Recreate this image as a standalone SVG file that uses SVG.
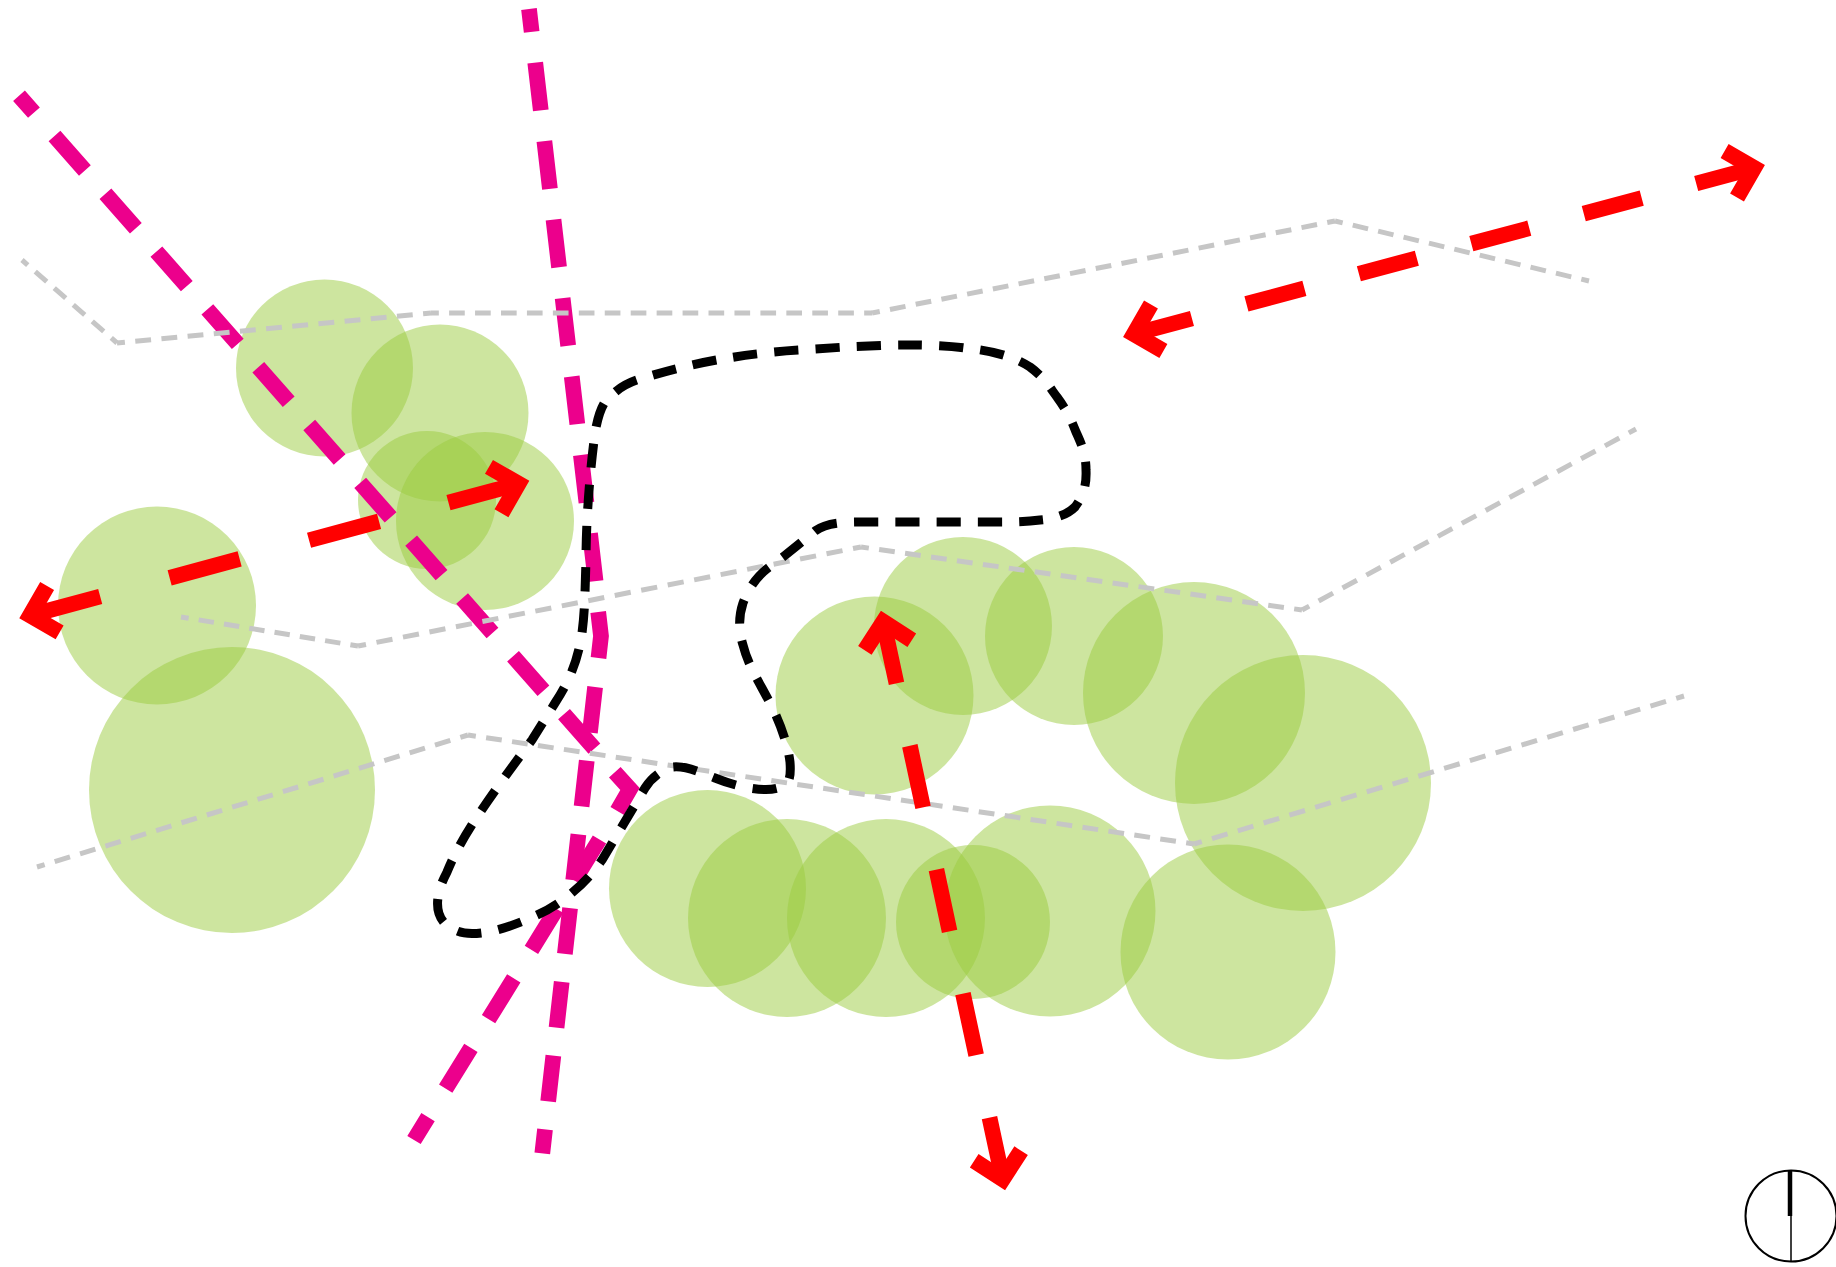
<svg xmlns="http://www.w3.org/2000/svg" width="1836" height="1267" viewBox="0 0 1836 1267">
<style>
.tree{fill:#9bcb3f;fill-opacity:.5}
.road path{fill:none;stroke:#c6c6c6;stroke-width:5;stroke-dasharray:16 10.5;stroke-dashoffset:8}
.mag{fill:none;stroke:#ec008c;stroke-width:15.7}
.bound{fill:none;stroke:#000;stroke-width:9;stroke-dasharray:24 17;stroke-dashoffset:15}
.red{fill:none;stroke:#f00;stroke-width:15.7;marker-start:url(#head);marker-end:url(#head)}
</style>
<defs>
<marker id="head" markerUnits="userSpaceOnUse" viewBox="-40 -40 60 80" refX="0" refY="0" markerWidth="60" markerHeight="80" orient="auto-start-reverse"><path d="M-24 -24L0 0L-24 24" fill="none" stroke="#f00" stroke-width="16"/></marker>
</defs>
<rect width="1836" height="1267" fill="#fff"/>
<g id="trees">
<circle class="tree" cx="324.5" cy="368" r="88.5"/>
<circle class="tree" cx="440" cy="413" r="88.5"/>
<circle class="tree" cx="427" cy="500" r="69"/>
<circle class="tree" cx="485" cy="521" r="89"/>
<circle class="tree" cx="157" cy="605.5" r="99"/>
<circle class="tree" cx="232" cy="790" r="143"/>
<circle class="tree" cx="874.5" cy="695.5" r="99"/>
<circle class="tree" cx="963" cy="626" r="89"/>
<circle class="tree" cx="1074" cy="636" r="89"/>
<circle class="tree" cx="1194" cy="693" r="111"/>
<circle class="tree" cx="1303" cy="783" r="128"/>
<circle class="tree" cx="707.5" cy="888.5" r="98.5"/>
<circle class="tree" cx="787" cy="918" r="99"/>
<circle class="tree" cx="886" cy="918" r="99"/>
<circle class="tree" cx="973" cy="922" r="77"/>
<circle class="tree" cx="1050" cy="911" r="105.5"/>
<circle class="tree" cx="1228" cy="952" r="107.5"/>
</g>
<g id="connectors">
<g id="magenta-routes">
<path class="mag" stroke-dasharray="46 31.06" stroke-dashoffset="23.4" d="M19 95.7L594.5 748.7"/>
<path class="mag" d="M614.8 772.3L630 789L617.3 811"/>
<path class="mag" stroke-dasharray="48 33.6" d="M599.5 839.5L414 1140"/>
<path class="mag" stroke-dasharray="48 31" stroke-dashoffset="25" d="M529 9L596.6 590"/>
<path class="mag" d="M598.2 612L601 636L598.5 658"/>
<path class="mag" stroke-dasharray="46 28.2" d="M595.1 687L542.3 1153.3"/>
</g>
<g id="roads" class="road">
<path pathLength="132.5" d="M22 260L117 343"/>
<path pathLength="318" d="M117 343L431 313"/>
<path pathLength="450.5" d="M431 313L872 313"/>
<path pathLength="477" d="M872 313L1335 221"/>
<path pathLength="265" d="M1335 221L1589 281"/>
<path pathLength="185.5" d="M181 617L358 646"/>
<path pathLength="503.5" d="M358 646L861 547"/>
<path pathLength="450.5" d="M861 547L1302 610"/>
<path pathLength="371" d="M1302 610L1636 429"/>
<path pathLength="450.5" d="M37 867L468 735"/>
<path pathLength="742" d="M468 735L1194 844"/>
<path pathLength="503.5" d="M1194 844L1684 696"/>
</g>
<path class="bound" pathLength="2132" d="M913 345C930 345 950 346 965 348C985 350 1010 354 1030 367C1045 378 1050 388 1057 397C1068 412 1072 422 1076 432C1082 445 1086 455 1086 470C1087 490 1080 500 1075 507C1065 517 1050 519 1040 520C1025 522 1010 522 990 522L860 522C838 522 825 524 815 531L783 557L768 568C755 578 748 590 743 603C738 618 739 632 743 645C748 665 758 680 770 703C780 722 788 745 790 762C791 775 790 785 781 787C770 792 745 790 715 778C695 770 685 766 673 767C660 770 650 780 645 788L602 860C585 885 560 905 535 916C500 932 470 938 455 930C435 922 432 900 447 872C460 840 480 810 532 740L555 703C570 680 578 660 582 633C585 610 585 590 586 560C586 520 590 470 595 433C598 415 603 400 612 395C620 387 630 382 640 379C670 370 720 355 800 350C840 347 880 345 913 345Z"/>
<path class="red" stroke-dasharray="72.5 71.9" d="M30.2 615.4L518.4 483.8"/>
<path class="red" stroke-dasharray="60 56.4" d="M1134 334L1754 168"/>
<path class="red" stroke-dasharray="63 63.75" d="M883.3 621.8L1002.7 1179.2"/>
</g>
<g id="north">
<circle cx="1791" cy="1216" r="45.5" fill="none" stroke="#000" stroke-width="2"/>
<path d="M1791 1170V1262" stroke="#000" stroke-width="1.5" fill="none"/>
<path d="M1790 1170V1216" stroke="#000" stroke-width="4.5" fill="none"/>
</g>
</svg>
